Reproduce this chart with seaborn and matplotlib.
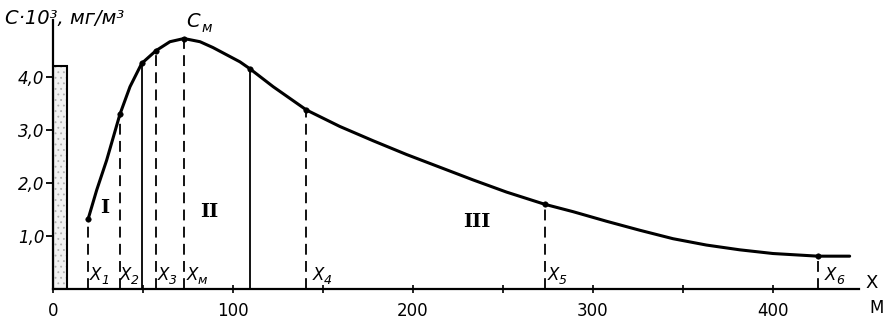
import matplotlib
matplotlib.use("Agg")
import matplotlib.pyplot as plt
import seaborn as sns

# ---- data ----
curve_x = [19.6, 24.3, 29.8, 37.2, 42.8, 49.3, 57.2, 65.0, 72.8, 81.7, 88.9, 103.9,
           109.4, 122.4, 140.9, 159.4, 177.9, 196.5, 215.0, 233.5, 252.1, 273.3,
           289.1, 307.6, 326.1, 344.6, 363.2, 381.7, 400.2, 425.2, 442.8]
curve_y = [1.33, 1.87, 2.43, 3.30, 3.82, 4.26, 4.50, 4.67, 4.73, 4.67, 4.56, 4.29,
           4.16, 3.82, 3.38, 3.07, 2.80, 2.54, 2.30, 2.06, 1.83, 1.60,
           1.46, 1.28, 1.11, 0.95, 0.83, 0.74, 0.67, 0.62, 0.62]

dash_x = [19.6, 37.2, 57.2, 72.8, 140.9, 273.3, 425.2]
dash_y = [1.33, 3.30, 4.50, 4.73, 3.38, 1.60, 0.62]
solid_x = [49.3, 109.4]
solid_y = [4.26, 4.16]

point_labels = ["X", "X", "X", "X", "X", "X", "X"]
point_subs = ["1", "2", "3", "м", "4", "5", "6"]
label_x = [20.5, 37.2, 58.3, 74.4, 144.4, 275.0, 429.0]

bar_x = [0.0]
bar_w = [8.0]
bar_h = [4.21]

zones = ["I", "II", "III"]
zone_x = [28.9, 86.7, 235.6]
zone_y = [1.53, 1.45, 1.26]

xtick_vals = [0, 100, 200, 300, 400]
xtick_labels = ["0", "100", "200", "300", "400"]
xminor_vals = [50, 150, 250, 350]
ytick_vals = [1, 2, 3, 4]
ytick_labels = ["1,0", "2,0", "3,0", "4,0"]

sns.set_theme(style="white")
plt.rcParams['font.family'] = ['DejaVu Sans']
plt.rcParams['hatch.linewidth'] = 0.6

fig = plt.figure(figsize=(8.84, 3.23), dpi=100)
ax = fig.add_axes([53 / 884, 34 / 323, 806 / 884, 269 / 323])

# stippled bar: light dotted fill, then black outline
ax.bar(bar_x, bar_h, width=bar_w, align="edge", color="#f2f2f2",
       edgecolor="#b0b0b0", linewidth=0, hatch="...", zorder=2)
ax.bar(bar_x, bar_h, width=bar_w, align="edge", fill=False,
       edgecolor="black", linewidth=1.5, zorder=3)

# verticals
ax.vlines(dash_x, 0, dash_y, colors="black", linestyles=(0, (6, 3.5)), linewidth=1.3, zorder=3)
ax.vlines(solid_x, 0, solid_y, colors="black", linestyles="solid", linewidth=1.3, zorder=3)

# curve
sns.lineplot(x=curve_x, y=curve_y, ax=ax, color="black", linewidth=2.2, sort=False, zorder=4)
sns.scatterplot(x=dash_x + solid_x, y=dash_y + solid_y, ax=ax, color="black", s=16,
                edgecolor="black", zorder=5)

ax.set_xlim(0, 448)
ax.set_ylim(0, 5.08)

ax.set_xticks(xtick_vals)
ax.set_xticklabels(xtick_labels, fontsize=12)
ax.set_xticks(xminor_vals, minor=True)
ax.set_yticks(ytick_vals)
ax.set_yticklabels(ytick_labels, fontsize=12, style="italic")
ax.tick_params(axis="y", which="major", direction="out", length=5, width=1.3, pad=1,
               left=True, colors="black")
ax.tick_params(axis="x", which="both", direction="inout", length=6, width=1.2, pad=6,
               bottom=True, colors="black")

for s in ["top", "right"]:
    ax.spines[s].set_visible(False)
for s in ["left", "bottom"]:
    ax.spines[s].set_color("black")
    ax.spines[s].set_linewidth(1.6)

ax.set_xlabel("")
ax.set_ylabel("")

# point labels with subscripts
for lx, m, sub in zip(label_x, point_labels, point_subs):
    ax.text(lx, 0.26, m, fontsize=12, ha="left", va="center", color="black", style="italic")
    ax.annotate(sub, xy=(lx, 0.26), xytext=(8, -4), textcoords="offset points",
                fontsize=9, ha="left", va="center", color="black", style="italic")

# zone numerals
for zx, zy, z in zip(zone_x, zone_y, zones):
    ax.text(zx, zy, z, fontsize=14, ha="center", va="center", family="DejaVu Serif",
            fontweight="bold", color="black")

# C_M
ax.text(77.8, 5.06, "C", fontsize=14, ha="center", va="center", style="italic",
        color="black", clip_on=False)
ax.text(85.5, 4.93, "м", fontsize=10, ha="center", va="center", style="italic",
        color="black", clip_on=False)

# axis titles
fig.text(5 / 884, 1 - 19 / 323, "C·10³, мг/м³", fontsize=14, style="italic",
         ha="left", va="center", color="black")
fig.text(872 / 884, 1 - 283 / 323, "X", fontsize=13, ha="center", va="center", color="black")
fig.text(877 / 884, 1 - 308 / 323, "М", fontsize=12, ha="center", va="center", color="black")

fig.savefig("out.png", dpi=100, facecolor="white")
